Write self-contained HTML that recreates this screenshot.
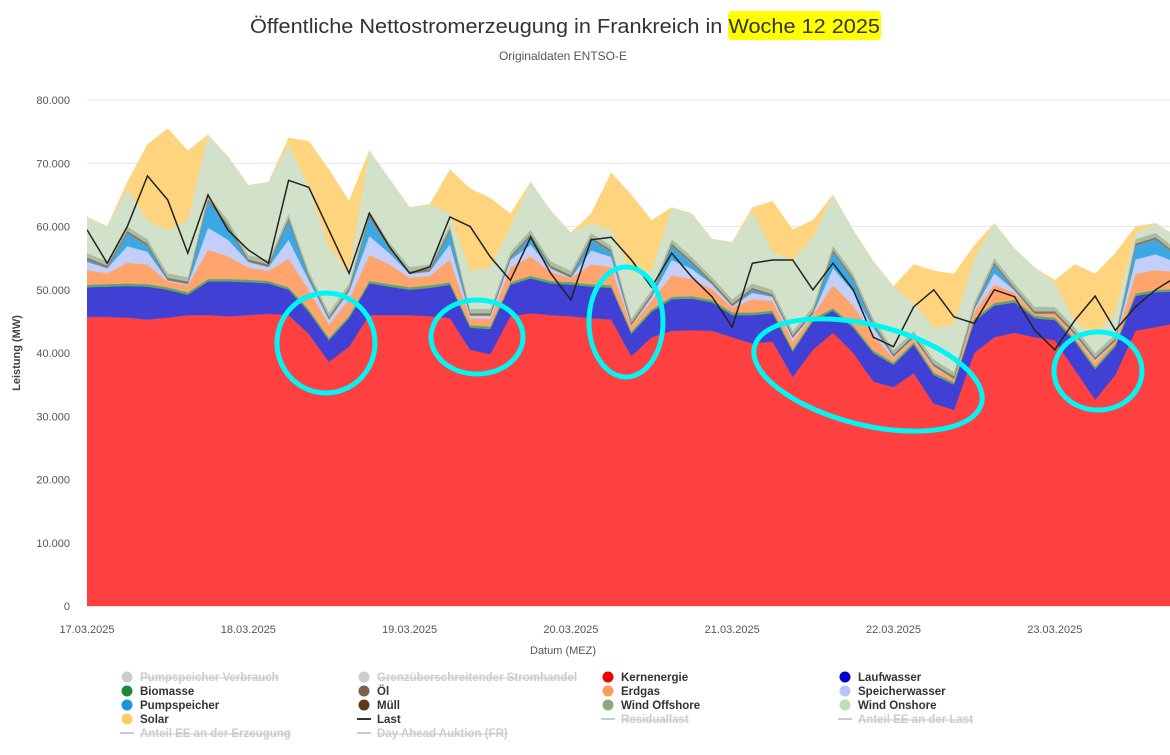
<!DOCTYPE html>
<html><head><meta charset="utf-8"><style>
body{margin:0;background:#fff;font-family:"Liberation Sans",sans-serif;}
svg text{font-family:"Liberation Sans",sans-serif;}
</style></head><body>
<svg id="chart" width="1170" height="750" xmlns="http://www.w3.org/2000/svg">
<rect x="728" y="11" width="153" height="29" rx="4" fill="#ffff00"/>
<text x="250" y="33" font-size="20" fill="#333" textLength="630" lengthAdjust="spacingAndGlyphs">Öffentliche Nettostromerzeugung in Frankreich in Woche 12 2025</text>
<text x="563" y="60" font-size="12" fill="#555" text-anchor="middle">Originaldaten ENTSO-E</text>
<g id="grid"></g>
<g id="areas"></g>
<g id="lines"></g>
<g id="axes"></g>
<text transform="translate(20,353) rotate(-90)" font-size="11" font-weight="bold" fill="#444" text-anchor="middle">Leistung (MW)</text>
<text x="563" y="654" font-size="11" fill="#555" text-anchor="middle">Datum (MEZ)</text>
<g fill="none" stroke="#00f5f5" stroke-width="5">
<ellipse cx="326" cy="343" rx="49" ry="50"/>
<ellipse cx="477" cy="337" rx="46" ry="37"/>
<ellipse cx="626" cy="322" rx="37" ry="55"/>
<ellipse cx="868" cy="375" rx="117" ry="50" transform="rotate(14 868 375)"/>
<ellipse cx="1098" cy="371" rx="44" ry="39"/>
</g>
<g id="legend"></g>
</svg>
<script>
const categoriesHours = [0,3,6,9,12,15,18,21,24,27,30,33,36,39,42,45,48,51,54,57,60,63,66,69,72,75,78,81,84,87,90,93,96,99,102,105,108,111,114,117,120,123,126,129,132,135,138,141,144,147,150,153,156,159,162];
const dayLabels = ["17.03.2025","18.03.2025","19.03.2025","20.03.2025","21.03.2025","22.03.2025","23.03.2025"];
const yTicks = [0,10,20,30,40,50,60,70,80];
const yTickLabels = ["0","10.000","20.000","30.000","40.000","50.000","60.000","70.000","80.000"];
const kernenergie = [45.7,45.7,45.6,45.3,45.6,46,46,45.8,46,46.2,46,43,38.6,41,46,46,46,45.8,45.5,40.5,39.8,45.8,46.3,46,45.8,45.5,45.3,39.5,42.5,43.5,43.6,43.5,42.5,41.5,41.8,36.2,40.5,43.2,40,35.5,34.6,36.8,32,31,40,42.5,43.2,42.5,42,37.3,32.6,36.5,43.5,44.1,44.7];
const laufwasser = [4.7,4.8,5,5.2,4.4,3.2,5.3,5.5,5.2,4.8,4,3.5,3.4,4.5,5,4.5,4,4.5,5.3,3.5,4,5,5.5,5,5,5,5,3.5,4,5,5,4.5,3.5,4.5,4.5,4,4.5,3.5,4,4.5,3.5,4.5,4.5,4,5,5,4.8,3,3.2,4.5,4.8,4.5,5.5,5.5,5];
const biomasse = [0.4,0.4,0.4,0.4,0.4,0.4,0.4,0.4,0.4,0.4,0.4,0.4,0.4,0.4,0.4,0.4,0.4,0.4,0.4,0.4,0.4,0.4,0.4,0.4,0.4,0.4,0.4,0.4,0.4,0.4,0.4,0.4,0.4,0.4,0.4,0.4,0.4,0.4,0.4,0.4,0.4,0.4,0.4,0.4,0.4,0.4,0.4,0.4,0.4,0.4,0.4,0.4,0.4,0.4,0.4];
const erdgas = [2.3,1.7,3.3,3.1,0.9,1.1,4.6,3.6,1.9,1.6,4.5,3.1,2.1,2.6,4.1,3.1,1.5,1.5,3.6,1.1,1.2,2.3,3.1,1.4,0.6,3.1,2.9,0.8,1.4,3.4,2.7,1.7,0.8,2.1,1.5,1.3,0.6,3.6,3.1,2.4,0.7,0.6,0.8,0.5,1.1,2.9,1.1,0.3,0.6,0.6,0.8,0.5,3.1,3.1,2.7];
const speicherwasser = [1.3,0.8,2.6,2,0.2,0.2,3.5,2.6,0.9,0.6,3,1.5,0.8,1.2,3,1.8,0.6,0.7,2.4,0.4,0.5,1.2,1.8,0.6,0.1,2.2,1.6,0.2,0.6,2.4,1.6,0.8,0.2,1,0.7,0.5,0.2,2.7,2.2,1.2,0.2,0.1,0.2,0,0.4,1.8,0.4,0,0,0.1,0.3,0,2.3,2.5,1.6];
const pumpspeicher = [0.3,0,2,0.9,0,0,4.1,2,0,0,3,0.4,0,0.2,2.9,0.6,0,0,2,0,0,0.2,1.3,0,0,1.7,0.7,0,0,2.2,0.8,0,0,0.4,0,0,0,2.5,1.8,0.4,0,0,0,0,0,1.3,0,0,0,0,0,0,2.1,2.3,1];
const oel = [0.1,0.1,0.1,0.1,0.1,0.1,0.1,0.1,0.1,0.1,0.1,0.1,0.1,0.1,0.1,0.1,0.1,0.1,0.1,0.1,0.1,0.1,0.1,0.1,0.1,0.1,0.1,0.1,0.1,0.1,0.1,0.1,0.1,0.1,0.1,0.1,0.1,0.1,0.1,0.1,0.1,0.1,0.1,0.1,0.1,0.1,0.1,0.1,0.1,0.1,0.1,0.1,0.1,0.1,0.1];
const muell = [0.3,0.3,0.3,0.3,0.3,0.3,0.3,0.3,0.3,0.3,0.3,0.3,0.3,0.3,0.3,0.3,0.3,0.3,0.3,0.3,0.3,0.3,0.3,0.3,0.3,0.3,0.3,0.3,0.3,0.3,0.3,0.3,0.3,0.3,0.3,0.3,0.3,0.3,0.3,0.3,0.3,0.3,0.3,0.3,0.3,0.3,0.3,0.3,0.3,0.3,0.3,0.3,0.3,0.3,0.3];
const windOffshore = [0.7,0.7,0.7,0.7,0.7,0.7,0.7,0.7,0.7,0.7,0.7,0.7,0.7,0.7,0.7,0.7,0.7,0.7,0.7,0.7,0.7,0.7,0.7,0.7,0.7,0.7,0.7,0.7,0.7,0.7,0.7,0.7,0.7,0.7,0.7,0.7,0.7,0.7,0.7,0.7,0.7,0.7,0.7,0.7,0.7,0.7,0.7,0.7,0.7,0.7,0.7,0.7,0.7,0.7,0.7];
const windOnshore = [5.7,5.5,6,3,6.8,9,9.5,10,11,12.3,11,13.3,10.4,1.6,9.5,10,9.4,9.5,1.7,6,6.5,4,7.5,8,6,1.5,2.4,7.1,3,5,6.8,6,9,11.5,6,11.2,11,8,6.8,9,10,4.5,5,7.5,7,5.5,5.5,6.2,3.7,1,2.5,3.5,1,1.5,2];
const solar = [0,0,1,12,16.1,11,0,0,0,0,1,7.2,12.2,11.4,0,0,0,0,7,13,11,2,0,0,0,1.5,9.1,12.4,8,0,0,0,0,0.5,8,4.8,2.7,0,0,0,0,6,9,8,2,0,0,0,0.5,9,10,9.3,1,0,0];
const last = [59.5,54.2,60,68,64.2,55.8,65,59.4,56.3,54.2,67.3,66.2,59.4,52.6,62.1,56.8,52.6,53.6,61.5,60,55.2,51.5,58.3,52.6,48.4,57.9,58.3,54.7,50.4,55.8,52,48.9,44.1,54.2,54.7,54.7,50,54.2,50,42.5,41,47.3,50,45.7,44.7,50,48.9,43.6,40.5,45.2,49,43.6,47.3,50,52];

const series = [
 {name:"kernenergie", data:kernenergie, color:"#ff4040"},
 {name:"laufwasser", data:laufwasser, color:"#4040d4"},
 {name:"biomasse", data:biomasse, color:"#5aa86a"},
 {name:"erdgas", data:erdgas, color:"#fea46c"},
 {name:"speicherwasser", data:speicherwasser, color:"#c3cff8"},
 {name:"pumpspeicher", data:pumpspeicher, color:"#3aa8e2"},
 {name:"oel", data:oel, color:"#9c8a7c"},
 {name:"muell", data:muell, color:"#857360"},
 {name:"wind-offshore", data:windOffshore, color:"#a9bda2"},
 {name:"wind-onshore", data:windOnshore, color:"#d2e1c9"},
 {name:"solar", data:solar, color:"#fed47f"}
];
const X0=87, PX_PER_HOUR=161.3/24, Y0=606, PX_PER_K=6.325, XR=1170;
function xScale(h){return X0+h*PX_PER_HOUR;}
function yScale(v){return Y0-v*PX_PER_K;}
const NS="http://www.w3.org/2000/svg";
const grid=document.getElementById('grid'), axes=document.getElementById('axes'), areas=document.getElementById('areas'), lines=document.getElementById('lines'), legend=document.getElementById('legend');
yTicks.forEach((t,i)=>{
 const l=document.createElementNS(NS,'line');
 l.setAttribute('x1',X0);l.setAttribute('x2',XR);l.setAttribute('y1',yScale(t));l.setAttribute('y2',yScale(t));
 l.setAttribute('stroke',t===0?'#ccc':'#e6e6e6');
 
 
 grid.appendChild(l);
 const tx=document.createElementNS(NS,'text');
 tx.setAttribute('x',70);tx.setAttribute('y',yScale(t)+4);tx.setAttribute('text-anchor','end');tx.setAttribute('font-size','11');tx.setAttribute('fill','#555');
 tx.textContent=yTickLabels[i];
 
 
 axes.appendChild(tx);
});
dayLabels.forEach((d,i)=>{
 const tx=document.createElementNS(NS,'text');
 tx.setAttribute('x',xScale(i*24));tx.setAttribute('y',633);tx.setAttribute('text-anchor','middle');tx.setAttribute('font-size','11');tx.setAttribute('fill','#555');
 tx.textContent=d;
 
 
 axes.appendChild(tx);
});
const cp=document.createElementNS(NS,'clipPath');cp.setAttribute('id','plotclip');
const cr=document.createElementNS(NS,'rect');cr.setAttribute('x',X0);cr.setAttribute('y',80);cr.setAttribute('width',XR-X0);cr.setAttribute('height',526);
cp.appendChild(cr);document.getElementById('chart').appendChild(cp);
areas.setAttribute('clip-path','url(#plotclip)');lines.setAttribute('clip-path','url(#plotclip)');
let base=categoriesHours.map(()=>0);
series.forEach(s=>{
 const top=base.map((b,i)=>b+s.data[i]);
 let d='';
 categoriesHours.forEach((h,i)=>{d+=(i?'L':'M')+xScale(h).toFixed(1)+','+yScale(top[i]).toFixed(1);});
 for(let i=categoriesHours.length-1;i>=0;i--){d+='L'+xScale(categoriesHours[i]).toFixed(1)+','+yScale(base[i]).toFixed(1);}
 const p=document.createElementNS(NS,'path');
 p.setAttribute('d',d+'Z');p.setAttribute('fill',s.color);p.setAttribute('stroke',s.color);p.setAttribute('stroke-width','0.3');
 
 
 areas.appendChild(p);
 base=top;
});
let ld='';
categoriesHours.forEach((h,i)=>{ld+=(i?'L':'M')+xScale(h).toFixed(1)+','+yScale(last[i]).toFixed(1);});
const lp=document.createElementNS(NS,'path');
lp.setAttribute('d',ld);lp.setAttribute('fill','none');lp.setAttribute('stroke','#222');lp.setAttribute('stroke-width','1.5');


lines.appendChild(lp);
const legendItems=[
 ["Pumpspeicher Verbrauch","#ccc",1,"dot"],["Grenzüberschreitender Stromhandel","#ccc",1,"dot"],["Kernenergie","#f00000",0,"dot"],["Laufwasser","#0000c8",0,"dot"],
 ["Biomasse","#1a8a3a",0,"dot"],["Öl","#7a6048",0,"dot"],["Erdgas","#fe9a55",0,"dot"],["Speicherwasser","#b4c6fa",0,"dot"],
 ["Pumpspeicher","#1a95dc",0,"dot"],["Müll","#5a3c18",0,"dot"],["Wind Offshore","#8aa884",0,"dot"],["Wind Onshore","#c2dcb6",0,"dot"],
 ["Solar","#fecd62",0,"dot"],["Last","#333",0,"line"],["Residuallast","#ccc",1,"line"],["Anteil EE an der Last","#ccc",1,"line"],
 ["Anteil EE an der Erzeugung","#ccc",1,"line"],["Day Ahead Auktion (FR)","#ccc",1,"line"]
];
const colX=[120,357,601,838];
legendItems.forEach((it,i)=>{
 const cx=colX[i%4], cy=677+Math.floor(i/4)*14;
 const g=document.createElementNS(NS,'g');
 
 
 if(it[3]==='dot'){const c=document.createElementNS(NS,'circle');c.setAttribute('cx',cx+7);c.setAttribute('cy',cy);c.setAttribute('r',5.5);c.setAttribute('fill',it[1]);g.appendChild(c);}
 else{const l=document.createElementNS(NS,'line');l.setAttribute('x1',cx);l.setAttribute('x2',cx+14);l.setAttribute('y1',cy);l.setAttribute('y2',cy);l.setAttribute('stroke',it[1]);l.setAttribute('stroke-width',2);g.appendChild(l);}
 const t=document.createElementNS(NS,'text');t.setAttribute('x',cx+20);t.setAttribute('y',cy+4);t.setAttribute('font-size','11.5');t.setAttribute('font-weight','bold');
 t.setAttribute('fill',it[2]?'#ccc':'#333');if(it[2])t.setAttribute('text-decoration','line-through');
 t.textContent=it[0];g.appendChild(t);legend.appendChild(g);
});
</script>
</body></html>
